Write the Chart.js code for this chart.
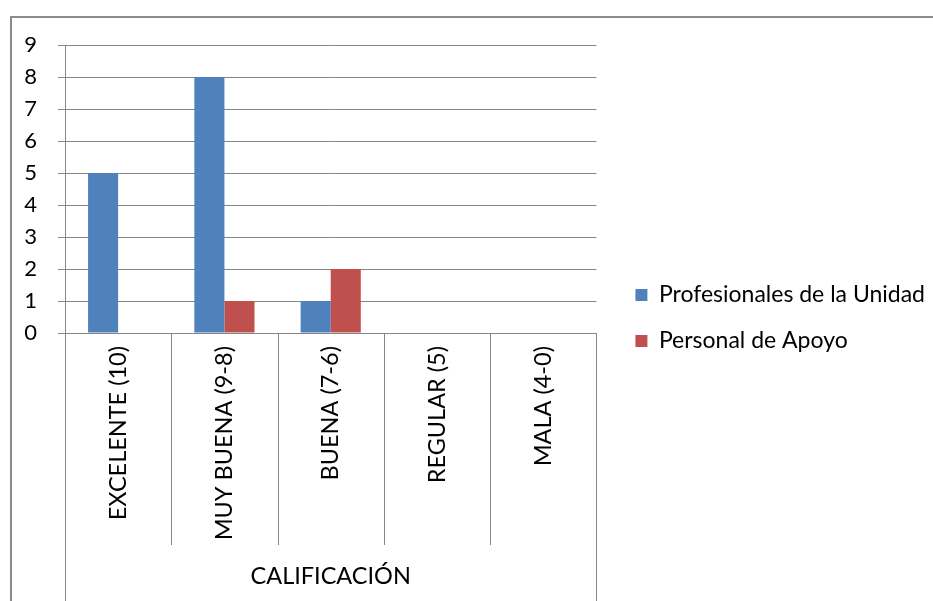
<!DOCTYPE html>
<html>
<head>
<meta charset="utf-8">
<script src="https://cdn.jsdelivr.net/npm/chart.js@4"></script>
<style>
  html, body { margin: 0; padding: 0; background: #fff; overflow: hidden; }
  #frame { position: absolute; left: 10px; top: 16px; width: 940px; height: 600px;
           border-left: 2px solid #8c8c8c; border-top: 2px solid #8c8c8c; }
  #wrap { position: absolute; left: 0; top: 0; width: 933px; height: 601px; }
</style>
</head>
<body>
<div id="frame"></div>
<div id="wrap"><canvas id="chart" width="933" height="601"></canvas></div>
<script>
// chart data
const categories    = ['EXCELENTE (10)', 'MUY BUENA (9-8)', 'BUENA (7-6)', 'REGULAR (5)', 'MALA (4-0)'];
const profesionales = [5, 8, 1, 0, 0];
const apoyo         = [0, 1, 2, 0, 0];
const seriesNames   = ['Profesionales de la Unidad', 'Personal de Apoyo'];
const yTicks        = [0, 1, 2, 3, 4, 5, 6, 7, 8, 9];

const FONT = 'Lato';
const FS = 23.5;
const GRID = '#868686';

// vertical separators under the category axis (two-level axis look)
const separators = {
  id: 'separators',
  afterDraw(chart) {
    const x = chart.scales.x;
    const area = chart.chartArea;
    const ctx = chart.ctx;
    const n = categories.length;
    const step = x.width / n;
    ctx.save();
    ctx.strokeStyle = GRID;
    ctx.lineWidth = 1;
    for (let i = 0; i <= n; i++) {
      const px = Math.round(x.left + i * step) + 0.5;
      const end = (i === 0 || i === n) ? chart.height : area.bottom + 212;
      ctx.beginPath();
      ctx.moveTo(px, area.bottom);
      ctx.lineTo(px, end);
      ctx.stroke();
    }
    ctx.restore();
  }
};

function draw() {
  new Chart(document.getElementById('chart'), {
    type: 'bar',
    data: {
      labels: categories,
      datasets: [
        { label: seriesNames[0], data: profesionales, backgroundColor: '#4F81BD', borderWidth: 0, yAxisID: 'y' },
        { label: seriesNames[1], data: apoyo, backgroundColor: '#C0504D', borderWidth: 0, yAxisID: 'y' },
      ],
    },
    options: {
      responsive: false,
      animation: false,
      layout: { padding: { left: 0, top: 45, right: -2, bottom: 10 } },
      datasets: { bar: { categoryPercentage: 0.566, barPercentage: 1 } },
      plugins: {
        tooltip: { enabled: false },
        legend: {
          position: 'right',
          maxWidth: 420,
          labels: {
            font: { family: FONT, size: 23 },
            color: '#000',
            boxWidth: 12,
            boxHeight: 12,
            padding: 23,
          },
        },
      },
      scales: {
        x: {
          grid: { display: false, drawTicks: false },
          border: { display: false },
          afterFit(s) { s.height = 601 - 10 - 333; },
          ticks: {
            minRotation: 90, maxRotation: 90,
            padding: 13,
            color: '#000',
            font: { family: FONT, size: FS },
          },
          title: {
            display: true,
            text: 'CALIFICACIÓN',
            color: '#000',
            font: { family: FONT, size: FS },
            padding: { top: 0, bottom: 0 },
          },
        },
        y: {
          min: 0, max: 9,
          afterFit(s) { s.width = 65; },
          afterBuildTicks(s) { s.ticks = yTicks.map(v => ({ value: v })); },
          ticks: { padding: 21, color: '#000', font: { family: FONT, size: 22 } },
          grid: { color: GRID, tickLength: 7, lineWidth: 1 },
          border: { color: GRID },
        },
        // empty spacer between plot and legend
        gap: {
          position: 'right',
          display: true,
          ticks: { display: false },
          grid: { display: false, drawTicks: false },
          border: { display: false },
          afterFit(s) { s.width = 16; },
        },
      },
    },
    plugins: [separators],
  });
}

document.fonts.load(FS + 'px ' + FONT).then(draw, draw);
</script>
</body>
</html>
